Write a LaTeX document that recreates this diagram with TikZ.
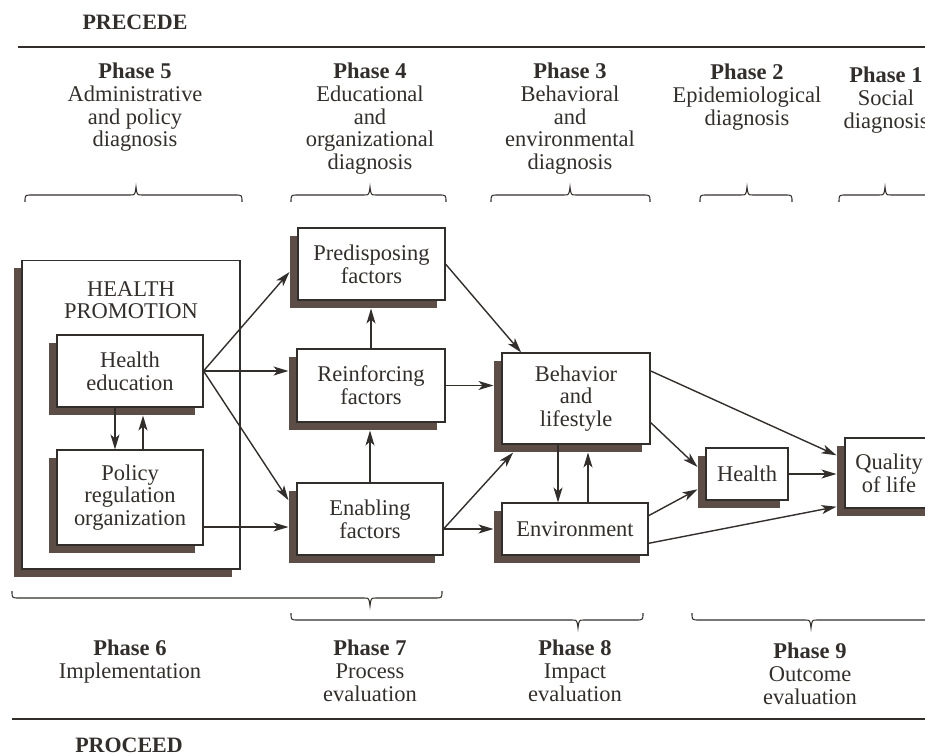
\documentclass[tikz,border=0pt]{standalone}
\usepackage{fontspec}
\setmainfont{Liberation Serif}
\usepackage{tikz}
\usetikzlibrary{arrows.meta,calc,shadows}
\definecolor{inkGray}{RGB}{50,46,44}
\definecolor{shadeBrown}{RGB}{92,78,70}

\begin{document}
\begin{tikzpicture}[x=0.02cm, y=-0.02cm,
  every node/.style={text=inkGray, font=\fontsize{12.8}{12.9}\selectfont},
  box/.style={draw=inkGray, line width=0.6pt, fill=white, align=center, inner sep=0pt,
    drop shadow={shadow xshift=-0.16cm, shadow yshift=-0.16cm, opacity=1, fill=shadeBrown}},
  phase/.style={align=center, inner sep=0pt, anchor=north},
  flow/.style={draw=inkGray, line width=0.8pt, -{Stealth[length=0.3cm,width=0.18cm,inset=0.08cm]}},
  toshade/.style={shorten >=0.16cm},
  bracket/.style={draw=inkGray, line width=0.6pt},
  rule/.style={draw=inkGray, line width=1.1pt}]
  \useasboundingbox (0,0) rectangle (925,756);
  \clip (0,0) rectangle (925,756);

  % PRECEDE part
  \node[font=\fontsize{12.5}{12}\selectfont\bfseries] (precede) at (135,22) {PRECEDE};
  \draw[rule] (18,47) -- (925,47);
  \node[phase] (ph5) at (135,63) {\textbf{Phase 5}\\Administrative\\and policy\\diagnosis};
  \node[phase] (ph4) at (370,63) {\textbf{Phase 4}\\Educational\\and\\organizational\\diagnosis};
  \node[phase] (ph3) at (570,63) {\textbf{Phase 3}\\Behavioral\\and\\environmental\\diagnosis};
  \node[phase] (ph2) at (747,64) {\textbf{Phase 2}\\Epidemiological\\diagnosis};
  \node[phase] (ph1) at (886,67) {\textbf{Phase 1}\\Social\\diagnosis};
  \foreach \lft/\tp/\rgt in {25/136/242, 291/370/446, 491/570/650, 700/747/792, 839/885/990}
    \draw[bracket] (\lft,202) .. controls (\lft,195) .. (\lft+7,195) -- (\tp-6,195)
      .. controls (\tp-1,195) .. (\tp,187) .. controls (\tp+1,195) .. (\tp+6,195)
      -- (\rgt-7,195) .. controls (\rgt,195) .. (\rgt,202);

  % boxes
  \node[box, minimum width=4.36cm, minimum height=6.18cm] (hp) at (131,414.5) {};
  \node[phase] (hptitle) at (131,281) {HEALTH\\PROMOTION};
  \node[box, minimum width=2.92cm, minimum height=1.44cm] (he) at (130,371) {Health\\education};
  \node[box, minimum width=2.92cm, minimum height=1.9cm] (pro) at (130,497.5) {Policy\\regulation\\organization};
  \node[box, minimum width=2.94cm, minimum height=1.44cm] (pre) at (371.5,264) {Predisposing\\factors};
  \node[box, minimum width=2.96cm, minimum height=1.46cm] (rei) at (371,385.5) {Reinforcing\\factors};
  \node[box, minimum width=2.92cm, minimum height=1.44cm] (ena) at (370,519) {Enabling\\factors};
  \node[box, minimum width=2.96cm, minimum height=1.82cm] (beh) at (576,398.5) {Behavior\\and\\lifestyle};
  \node[box, minimum width=2.92cm, minimum height=1.04cm] (env) at (575,529) {Environment};
  \node[box, minimum width=1.64cm, minimum height=1.04cm] (hea) at (747,474) {Health};
  \node[box, minimum width=1.76cm, minimum height=1.4cm] (qol) at (889,473) {Quality\\of life};

  % connectors
  \draw[flow] (he.east) -- ($(pre.west)+(-8,8)$);
  \draw[flow, toshade] (he.east) -- (he.east -| rei.west);
  \draw[flow] (he.east) -- ($(ena.160)+(-8,8)$);
  \draw[flow, toshade] ($(pro.east |- ena.west)+(0,8)$) -- ($(ena.west)+(0,8)$);
  \draw[flow] ($(he.south)+(-15,0)$) -- ($(pro.north)+(-15,0)$);
  \draw[flow] ($(pro.north)+(13,0)$) -- ($(he.south)+(13,8)$);
  \draw[flow] (rei.north) -- ($(rei.north |- pre.south)+(0,8)$);
  \draw[flow] (ena.north) -- ($(ena.north |- rei.south)+(0,8)$);
  \draw[flow] (pre.east) -- (beh.140);
  \draw[flow, toshade] (rei.east) -- (rei.east -| beh.west);
  \draw[flow] (ena.east |- env.west) -- ($(beh.220)+(-8,8)$);
  \draw[flow, toshade] (ena.east |- env.west) -- (env.west);
  \draw[flow] ($(beh.south)+(-18,0)$) -- ($(env.north)+(-17,0)$);
  \draw[flow] ($(env.north)+(13,0)$) -- ($(beh.south)+(12,8)$);
  \draw[flow] ($(beh.north east)!0.2!(beh.south east)$) -- ($(qol.150)+(-8,8)$);
  \draw[flow] ($(beh.north east)!0.76!(beh.south east)$) -- ($(hea.160)+(-8,8)$);
  \draw[flow, toshade] (hea.east) -- (hea.east -| qol.west);
  \draw[flow] ($(env.north east)!0.25!(env.south east)$) -- ($(hea.190)+(-8,8)$);
  \draw[flow] ($(env.north east)!0.77!(env.south east)$) -- ($(qol.210)+(-8,8)$);

  % PROCEED part
  \foreach \lft/\tp/\rgt/\yy in {12/370/442/598, 291/578/643/620, 692/811/990/620}
    \draw[bracket] (\lft,\yy-7) .. controls (\lft,\yy) .. (\lft+7,\yy) -- (\tp-6,\yy)
      .. controls (\tp-1,\yy) .. (\tp,\yy+8) .. controls (\tp+1,\yy) .. (\tp+6,\yy)
      -- (\rgt-7,\yy) .. controls (\rgt,\yy) .. (\rgt,\yy-7);
  \node[phase] (ph6) at (130,640) {\textbf{Phase 6}\\Implementation};
  \node[phase] (ph7) at (370,640) {\textbf{Phase 7}\\Process\\evaluation};
  \node[phase] (ph8) at (575,640) {\textbf{Phase 8}\\Impact\\evaluation};
  \node[phase] (ph9) at (810,643) {\textbf{Phase 9}\\Outcome\\evaluation};
  \draw[rule] (12,719) -- (925,719);
  \node[font=\fontsize{12.5}{12}\selectfont\bfseries] (proceed) at (129,745) {PROCEED};
\end{tikzpicture}
\end{document}
